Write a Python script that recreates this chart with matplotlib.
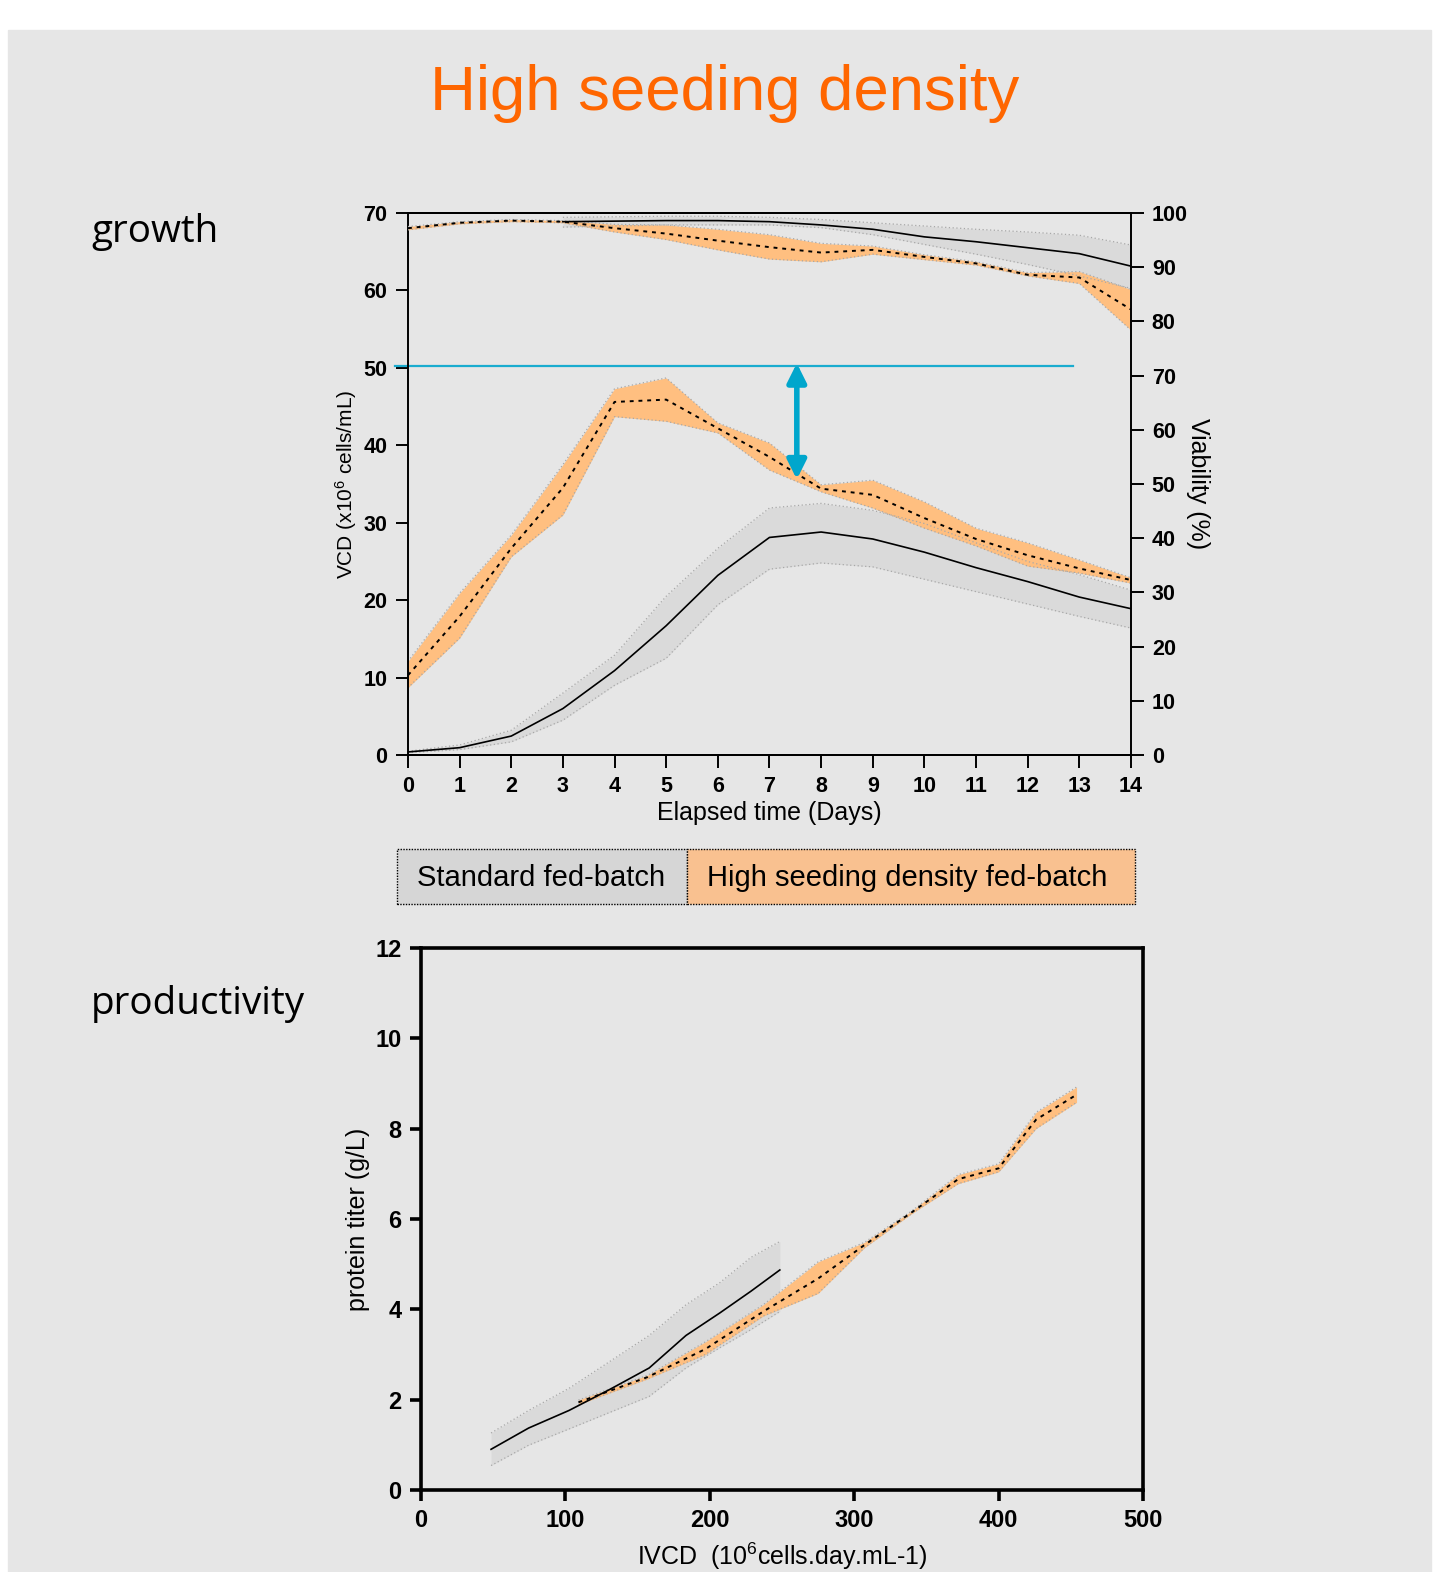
import matplotlib.pyplot as plt
from matplotlib.patches import Rectangle

plt.rcParams['font.family'] = ['Liberation Sans', 'DejaVu Sans']
plt.rcParams['mathtext.fontset'] = 'custom'
plt.rcParams['mathtext.rm'] = 'Liberation Sans'
plt.rcParams['mathtext.default'] = 'rm'

# growth: viable cell density (x10^6 cells/mL) per day
days = list(range(15))
std_vcd = [0.4, 0.95, 2.45, 6.0, 10.9, 16.7, 23.2, 28.1, 28.8, 27.9, 26.2, 24.2, 22.4, 20.4, 18.9]
std_vcd_hi = [0.5, 1.3, 3.2, 8.0, 12.9, 20.5, 26.7, 31.9, 32.5, 31.6, 29.9, 27.4, 25.0, 23.3, 21.3]
std_vcd_lo = [0.3, 0.7, 1.7, 4.5, 9.0, 12.5, 19.4, 24.0, 24.8, 24.3, 22.7, 21.1, 19.5, 17.9, 16.4]

hsd_vcd = [10.3, 17.9, 26.7, 34.5, 45.6, 45.9, 42.2, 38.5, 34.4, 33.6, 30.6, 27.9, 25.8, 24.1, 22.6]
hsd_vcd_hi = [12.1, 20.9, 28.4, 37.5, 47.3, 48.7, 42.9, 40.3, 34.9, 35.5, 32.7, 29.3, 27.4, 25.2, 22.9]
hsd_vcd_lo = [8.7, 15.1, 25.6, 31.0, 43.7, 43.1, 41.6, 36.8, 34.0, 31.9, 29.3, 27.0, 24.4, 23.5, 22.2]

# growth: viability (%)
hsd_via = [97.2, 98.2, 98.6, 98.4, 97.2, 96.2, 94.9, 93.7, 92.7, 93.2, 91.9, 90.7, 88.6, 88.1, 82.2]
hsd_via_hi = [97.5, 98.4, 98.8, 98.6, 97.9, 97.8, 97.0, 96.0, 94.4, 93.9, 92.3, 91.0, 89.0, 89.2, 85.9]
hsd_via_lo = [96.9, 98.0, 98.4, 98.2, 96.5, 95.1, 93.2, 91.5, 91.0, 92.4, 91.4, 90.4, 88.4, 87.0, 78.4]

std_via_days = list(range(3, 15))
std_via = [98.4, 98.5, 98.6, 98.6, 98.4, 97.8, 97.0, 95.6, 94.7, 93.6, 92.5, 90.2]
std_via_hi = [99.2, 99.3, 99.4, 99.4, 99.2, 98.8, 98.2, 97.6, 97.0, 96.5, 95.9, 94.1]
std_via_lo = [97.4, 97.6, 97.8, 97.8, 97.8, 97.3, 96.0, 94.2, 92.4, 90.5, 88.4, 86.1]

# peak reference line and gap marker
ref_vcd = 50.2
ref_span = (-0.25, 12.88)
gap_day = 7.53
gap_top, gap_bottom = 50.6, 35.6

# productivity: titer vs IVCD
std_ivcd = [48.5, 74.5, 102.5, 131.0, 158.0, 183.5, 207.0, 228.5, 248.5]
std_titer = [0.90, 1.37, 1.76, 2.23, 2.70, 3.42, 3.92, 4.40, 4.87]
std_titer_hi = [1.26, 1.76, 2.25, 2.85, 3.42, 4.10, 4.59, 5.15, 5.50]
std_titer_lo = [0.54, 0.99, 1.35, 1.72, 2.07, 2.70, 3.15, 3.55, 3.95]

hsd_ivcd = [109, 157, 197, 237, 275, 307, 340, 372, 400, 426, 454]
hsd_titer = [1.94, 2.50, 3.12, 3.95, 4.68, 5.42, 6.15, 6.88, 7.12, 8.20, 8.75]
hsd_titer_hi = [1.99, 2.54, 3.28, 4.10, 5.05, 5.48, 6.18, 6.98, 7.22, 8.36, 8.92]
hsd_titer_lo = [1.89, 2.46, 3.00, 3.85, 4.35, 5.36, 6.12, 6.78, 7.04, 8.00, 8.58]

legend_labels = ['Standard fed-batch', 'High seeding density fed-batch']

BG = '#e6e6e6'
GREY_FILL = '#dadada'
ORANGE_FILL = '#ffbf80'
EDGE = '#a8a8a8'
BLUE = '#1aaccf'


def band(ax, x, lo, hi, fill):
    ax.fill_between(x, lo, hi, color=fill, lw=0)
    ax.plot(x, lo, color=EDGE, lw=0.9, ls=(0, (1, 2)))
    ax.plot(x, hi, color=EDGE, lw=0.9, ls=(0, (1, 2)))


fig = plt.figure(figsize=(14.35, 15.72), dpi=100)
fig.add_artist(Rectangle((8 / 1435, 0), 1423 / 1435, 1 - 30 / 1572,
                         transform=fig.transFigure, color=BG, zorder=-1))

fig.text(725 / 1435, 1 - 110 / 1572, 'High seeding density', color='#ff6600',
         fontsize=45.7, ha='center', va='baseline')
fig.text(91 / 1435, 1 - 232 / 1572, 'growth', fontsize=27.8,
         family=['Open Sans', 'DejaVu Sans'], va='center')
fig.text(91 / 1435, 1 - 1004 / 1572, 'productivity', fontsize=27.8,
         family=['Open Sans', 'DejaVu Sans'], va='center')

# --- growth panel ---
ax1 = fig.add_axes([0.2843, 0.5197, 0.5038, 0.3448])
ax1.set_facecolor('none')
band(ax1, days, std_vcd_lo, std_vcd_hi, GREY_FILL)
band(ax1, days, hsd_vcd_lo, hsd_vcd_hi, ORANGE_FILL)
ax1.plot(days, std_vcd, color='black', lw=1.2)
ax1.plot(days, hsd_vcd, color='black', lw=1.4, ls=(0, (2, 2.5)))
ax1.plot(ref_span, [ref_vcd, ref_vcd], color=BLUE, lw=1.6, clip_on=False)
ax1.annotate('', xy=(gap_day, gap_bottom), xytext=(gap_day, gap_top),
             arrowprops=dict(arrowstyle='<|-|>', color='#00a6cc', lw=4,
                             mutation_scale=28, shrinkA=0, shrinkB=0))
ax1.set_xlim(0, 14)
ax1.set_ylim(0, 70)
ax1.set_xticks(days)
ax1.set_yticks(range(0, 71, 10))
ax1.set_xlabel('Elapsed time (Days)', fontsize=18, labelpad=3)
ax1.set_ylabel('VCD (x10$^{6}$ cells/mL)', fontsize=15, labelpad=3)

ax2 = ax1.twinx()
band(ax2, std_via_days, std_via_lo, std_via_hi, GREY_FILL)
band(ax2, days, hsd_via_lo, hsd_via_hi, ORANGE_FILL)
ax2.plot(std_via_days, std_via, color='black', lw=1.2)
ax2.plot(days, hsd_via, color='black', lw=1.4, ls=(0, (2, 2.5)))
ax2.set_ylim(0, 100)
ax2.set_yticks(range(0, 101, 10))
ax2.set_ylabel('Viability (%)', fontsize=18, rotation=270, labelpad=16)

for ax in (ax1, ax2):
    for s in ax.spines.values():
        s.set_linewidth(1.4)
    ax.tick_params(direction='out', length=9, width=1.4, labelsize=15.5, pad=6)
    for lab in ax.get_xticklabels() + ax.get_yticklabels():
        lab.set_fontweight('bold')
ax1.spines['right'].set_visible(False)
ax2.spines['left'].set_visible(False)

# --- legend strip ---
ly0, ly1 = 1 - 904 / 1572, 1 - 849 / 1572
lx = [397 / 1435, 687 / 1435, 1135 / 1435]
for i, (fill, lab) in enumerate(zip(['#d6d6d6', '#f9c190'], legend_labels)):
    fig.add_artist(Rectangle((lx[i], ly0), lx[i + 1] - lx[i], ly1 - ly0,
                             transform=fig.transFigure, facecolor=fill,
                             edgecolor='black', lw=1.0, ls=(0, (1, 1))))
    fig.text(lx[i] + 20 / 1435, (ly0 + ly1) / 2 - 0.001, lab, fontsize=21,
             va='center')

# --- productivity panel ---
ax3 = fig.add_axes([0.2934, 0.0522, 0.5031, 0.3448])
ax3.set_facecolor('none')
band(ax3, std_ivcd, std_titer_lo, std_titer_hi, GREY_FILL)
band(ax3, hsd_ivcd, hsd_titer_lo, hsd_titer_hi, ORANGE_FILL)
ax3.plot(std_ivcd, std_titer, color='black', lw=1.2)
ax3.plot(hsd_ivcd, hsd_titer, color='black', lw=1.4, ls=(0, (2, 2.5)))
ax3.set_xlim(0, 500)
ax3.set_ylim(0, 12)
ax3.set_xticks(range(0, 501, 100))
ax3.set_yticks(range(0, 13, 2))
for s in ax3.spines.values():
    s.set_linewidth(2.6)
ax3.tick_params(direction='out', length=8, width=2.6, labelsize=17, pad=6)
for lab in ax3.get_xticklabels() + ax3.get_yticklabels():
    lab.set_fontweight('bold')
ax3.set_xlabel('IVCD  (10$^{6}$cells.day.mL-1)', fontsize=18, labelpad=6)
ax3.set_ylabel('protein titer (g/L)', fontsize=18, labelpad=4)

fig.savefig('out.png', dpi=100, facecolor='white')
